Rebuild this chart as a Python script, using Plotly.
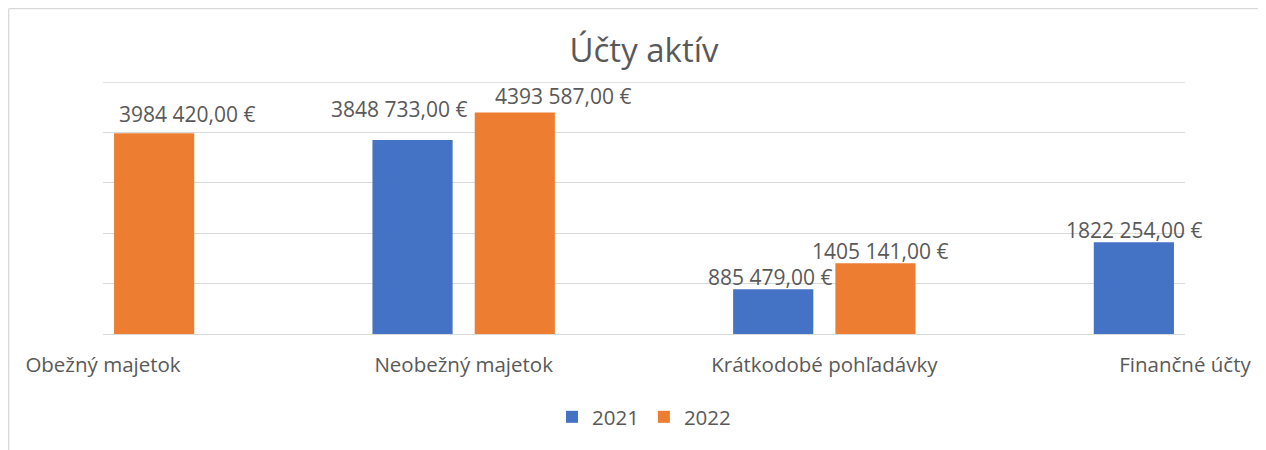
import plotly.graph_objects as go

categories = ["Obežný majetok", "Neobežný majetok", "Krátkodobé pohľadávky", "Finančné účty"]
values_2021 = [None, 3848733, 885479, 1822254]
values_2022 = [3984420, 4393587, 1405141, None]
series_names = ["2021", "2022"]
colors = ["#4472C4", "#ED7D31"]
title_text = "Účty aktív"

# label placement tweaks (pixels) relative to bar centre / bar top
label_dx = [[0, -13.5, -3.5, 0], [33, 48.5, 5, 0]]
label_dy = [[0, 31, 12.5, 12], [19.5, 17, 12.5, 0]]

FONT = "Open Sans"
TXT = "#595959"
OFF = 8  # page body margin


def fmt(v):
    if v is None:
        return ""
    return f"{v // 1000} {v % 1000:03d},00 €"


W, H = 1266 - OFF, 450 - OFF
L, R, T, B = 103 - OFF, 1185 - OFF, 82 - OFF, 334 - OFF
BARGAP, GROUPGAP = 0.433, 0.216
cat_w = (R - L) / 3
slot = cat_w * (1 - BARGAP) / 2
bar_off = [-slot / 2, slot / 2]

fig = go.Figure()
for i, (name, vals, col) in enumerate(zip(series_names, [values_2021, values_2022], colors)):
    fig.add_trace(go.Bar(
        x=categories, y=vals, name=name, marker=dict(color=col, line=dict(width=0)),
    ))
    for j, (c, v) in enumerate(zip(categories, vals)):
        if v is None:
            continue
        fig.add_annotation(
            x=c, y=v, xref="x", yref="y", text=fmt(v), showarrow=False,
            xanchor="center", yanchor="middle",
            xshift=bar_off[i] + label_dx[i][j], yshift=label_dy[i][j],
            font=dict(family=FONT, size=21, color=TXT),
        )

fig.update_layout(
    width=W, height=H,
    margin=dict(l=L, r=W - R, t=T, b=H - B, pad=0),
    paper_bgcolor="white", plot_bgcolor="white",
    barmode="group", bargap=BARGAP, bargroupgap=GROUPGAP,
    title=dict(text=title_text, x=0.5, xref="paper", xanchor="center",
               y=1 - (50 - OFF) / H, yanchor="middle",
               font=dict(family=FONT, size=33, color=TXT)),
    font=dict(family=FONT, color=TXT),
    showlegend=True,
    legend=dict(orientation="h", x=0.5, xanchor="center", y=(B - (417 - OFF)) / (B - T),
                yanchor="middle", font=dict(family=FONT, size=20.5, color=TXT),
                traceorder="normal", itemwidth=30),
    xaxis=dict(type="category", range=[0, 3], showgrid=False, showline=False,
               ticks="", tickfont=dict(family=FONT, size=20.5, color=TXT),
               ticklabelstandoff=16),
    yaxis=dict(range=[0, 5e6], dtick=1e6, showgrid=True, gridcolor="#D9D9D9",
               gridwidth=1.3, zeroline=True, zerolinecolor="#D9D9D9", zerolinewidth=1.3,
               showticklabels=False, showline=False, ticks=""),
)

# top gridline at the range end
fig.add_shape(type="line", xref="paper", yref="y", x0=0, x1=1, y0=5e6, y1=5e6,
              line=dict(color="#D9D9D9", width=1.3), layer="below")

# outer chart border (partially visible, as in reference)
px = lambda x: (x - OFF - L) / (R - L)
py = lambda y: (B - (y - OFF)) / (B - T)
fig.add_shape(type="line", xref="paper", yref="paper", x0=px(8.7), x1=px(1280), y0=py(8.7), y1=py(8.7),
              line=dict(color="#D9D9D9", width=1.3))
fig.add_shape(type="line", xref="paper", yref="paper", x0=px(8.7), x1=px(8.7), y0=py(8.7), y1=py(460),
              line=dict(color="#D9D9D9", width=1.3))

fig.write_html("out.html")
